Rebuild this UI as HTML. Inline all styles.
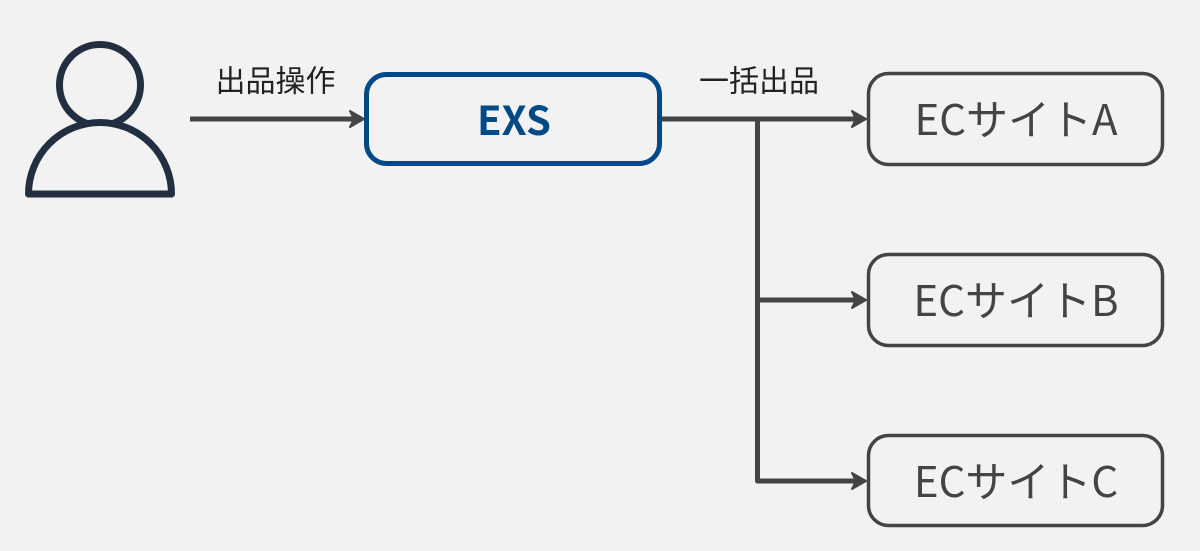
<!DOCTYPE html>
<html lang="ja">
<head>
<meta charset="utf-8">
<style>
html,body{margin:0;padding:0;background:#f2f2f2;width:1200px;height:551px;overflow:hidden}
svg{display:block}
text{font-family:"Noto Sans CJK JP",sans-serif}
</style>
</head>
<body>
<svg width="1200" height="551" viewBox="0 0 1200 551" xmlns="http://www.w3.org/2000/svg">
<rect width="1200" height="551" fill="#f2f2f2"/>
<g stroke="#212f40" stroke-width="7" stroke-linejoin="round">
<circle cx="100" cy="85" r="40.500" fill="none"/>
<path d="M28.500 194 A71.500 71.500 0 0 1 171.500 194 Z" fill="#f2f2f2"/>
</g>
<g fill="none" stroke="#444" stroke-width="5" stroke-linejoin="round">
<path d="M190 119 H356"/>
<path d="M662 119 H858"/>
<path d="M757.500 119 V481 H858"/>
<path d="M757.500 300 H858"/>
</g>
<g fill="#444" stroke="#444" stroke-width="2" stroke-linejoin="round">
<path d="M364 119 L350 111 L354 119 L350 127 Z"/>
<path d="M866 119 L852 111 L856 119 L852 127 Z"/>
<path d="M866 300 L852 292 L856 300 L852 308 Z"/>
<path d="M866 481 L852 473 L856 481 L852 489 Z"/>
</g>
<rect x="366.500" y="74.500" width="293" height="89" rx="20" fill="none" stroke="#004987" stroke-width="5"/>
<g fill="none" stroke="#444" stroke-width="3.500">
<rect x="868.500" y="73.500" width="294" height="91" rx="20"/>
<rect x="868.500" y="254.500" width="294" height="91" rx="20"/>
<rect x="868.500" y="435.500" width="294" height="90" rx="20"/>
</g>
<text x="514" y="135" font-size="40" font-weight="700" fill="#004987" text-anchor="middle">EXS</text>
<g font-size="42" fill="#444" text-anchor="middle">
<text x="1016" y="135">ECサイトA</text>
<text x="1016" y="316">ECサイトB</text>
<text x="1016" y="497">ECサイトC</text>
</g>
<g font-size="30" fill="#222" text-anchor="middle">
<text x="275.500" y="91.500">出品操作</text>
<text x="759" y="91.500">一括出品</text>
</g>
</svg>
</body>
</html>
